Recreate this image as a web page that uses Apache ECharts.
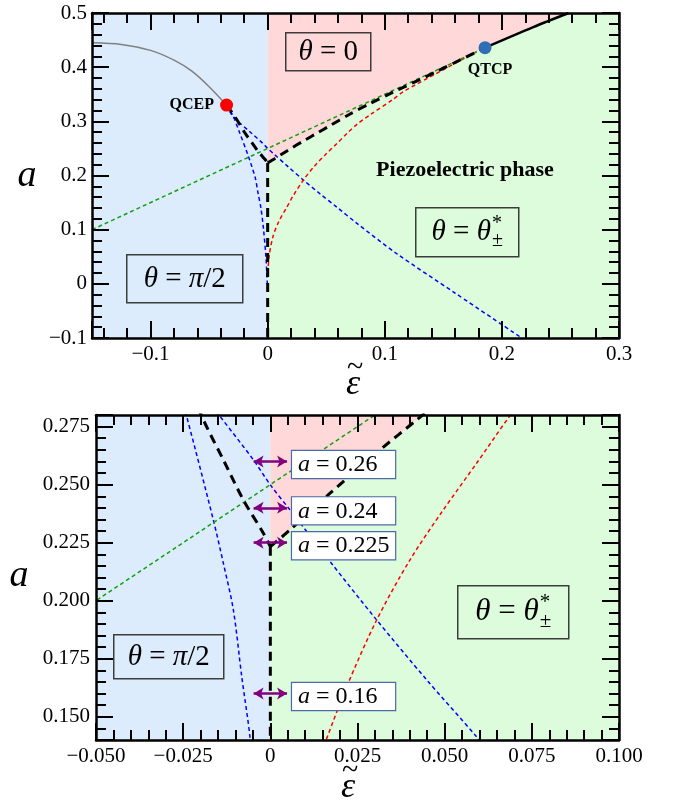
<!DOCTYPE html>
<html><head><meta charset="utf-8">
<script src="https://cdn.jsdelivr.net/npm/echarts@6/dist/echarts.min.js"></script>
<style>html,body{margin:0;padding:0;background:#fff}#c{width:678px;height:804px}</style>
</head><body><div id="c"></div>
<script>
// ---------- data ----------
const topXRange = [-0.15, 0.3];
const topYRange = [-0.1, 0.5];
const botXRange = [-0.05, 0.1];
const botYRange = [0.14, 0.28];
const topXTicks = [0.1, 0.02];   // major, minor
const topYTicks = [0.1, 0.02];
const botXTicks = [0.025, 0.005];
const botYTicks = [0.025, 0.005];

const qcep = [-0.0351, 0.330];
const qtcp = [0.1856, 0.436];
const grayCurve = [[-0.15,0.445],[-0.125,0.442],[-0.1,0.431],[-0.08,0.413],[-0.065,0.393],[-0.05,0.364],[-0.0351,0.330]];
const blueCurve1 = [[-0.0351,0.330],[-0.0300,0.312],[-0.0240,0.2794],[-0.01635,0.2348],[-0.01348,0.2162],[-0.0106,0.196],[-0.0082,0.1673],[-0.0058,0.1407],[-0.0035,0.100],[-0.0015,0.050],[-0.0003,0.0]];
const blueCurve2 = [[-0.0351,0.330],[-0.0294,0.3085],[-0.01443,0.2794],[-0.00487,0.2607],[0,0.2499],[0.00565,0.2391],[0.01712,0.2169],[0.0305,0.1917],[0.04485,0.1659],[0.0587,0.1422],[0.076,0.112],[0.110,0.056],[0.160,-0.017],[0.217,-0.1]];
const greenLine = [[-0.15,0.10],[0.1856,0.4356]];
const redCurve = [[0.0002,0.02],[0.0012,0.05],[0.0045,0.087],[0.0095,0.115],[0.01617,0.1407],[0.0219,0.163],[0.0305,0.1917],[0.04006,0.2176],[0.0496,0.2391],[0.0592,0.2593],[0.06825,0.2787],[0.076,0.294],[0.0874,0.312],[0.1073,0.341],[0.1158,0.3546],[0.1443,0.3886],[0.1728,0.422],[0.1856,0.436]];
const blackLeft = [[-0.0351,0.330],[-0.0279,0.3085],[-0.0192,0.2779],[-0.01348,0.2607],[-0.00774,0.2434],[-0.0020,0.2291],[0,0.2233]];
const blackRight = [[0,0.2233],[0.00565,0.2305],[0.01712,0.2463],[0.03146,0.265],[0.042,0.2779],[0.0532,0.292],[0.07,0.313],[0.0874,0.333],[0.1073,0.354],[0.1443,0.392],[0.1856,0.436]];
const blackSolid = [[0.1856,0.436],[0.2268,0.474],[0.257,0.5]];
const blackVertical = [[0,0.2233],[0,-0.1]];
const arrowLevels = [0.26, 0.24, 0.225, 0.16];
const arrowHalfSpan = 0.0048;

// ---------- styles ----------
const SERIF = 'Liberation Serif';
const C_BLUEBG = '#dcecfc', C_PINK = '#ffd9d9', C_GREENBG = '#dcfcdc';

function fmt(step, dec) {
  return function (v) {
    const k = v / step;
    if (Math.abs(k - Math.round(k)) > 1e-6) return '';
    if (Math.abs(v) < 1e-9) return '0';
    return v.toFixed(dec).replace('-', '\u2212');
  };
}

function makeAxes(dim, grid, range, ticks, dec, margin) {
  const posA = dim === 'x' ? 'bottom' : 'left';
  const posB = dim === 'x' ? 'top' : 'right';
  const mk = (pos, step, len, withLabel, withLine) => ({
    type: 'value', gridIndex: grid, position: pos, min: range[0], max: range[1], z: 20,
    minInterval: step, maxInterval: step,
    splitNumber: Math.round((range[1] - range[0]) / step),
    splitLine: { show: false },
    axisLine: { show: withLine, onZero: false, lineStyle: { color: '#000', width: 2.5 } },
    axisTick: { show: true, inside: true, length: len, lineStyle: { color: '#000', width: 2 } },
    axisLabel: { show: withLabel, margin: margin, color: '#000', fontFamily: SERIF, fontSize: 21,
      formatter: fmt(ticks[0], dec) }
  });
  return [mk(posA, ticks[0], 17, true, true), mk(posA, ticks[1], 10, false, false),
          mk(posB, ticks[0], 17, false, true), mk(posB, ticks[1], 10, false, false)];
}

const xAxes = [].concat(makeAxes('x', 0, topXRange, topXTicks, 1, 6), makeAxes('x', 1, botXRange, botXTicks, 3, 6));
const yAxes = [].concat(makeAxes('y', 0, topYRange, topYTicks, 1, 5), makeAxes('y', 1, botYRange, botYTicks, 3, 6));

function lineS(data, ax, color, width, dash, z, smooth) {
  return { type: 'line', data: data, xAxisIndex: ax, yAxisIndex: ax, showSymbol: false, symbol: 'none',
    silent: true, animation: false, z: z || 3, clip: true, smooth: smooth || false,
    lineStyle: { color: color, width: width, type: dash || 'solid', cap: 'butt' } };
}
function rectS(xr, yr, ax, color) {
  return { type: 'line', data: [[xr[0], yr[1]], [xr[1], yr[1]]], xAxisIndex: ax, yAxisIndex: ax,
    symbol: 'none', silent: true, animation: false, z: -10,
    lineStyle: { width: 0, opacity: 0 }, areaStyle: { color: color, opacity: 1, origin: 'start' } };
}
function pinkS(ax) {
  return { type: 'line', data: blackRight.concat(blackSolid.slice(1)), xAxisIndex: ax, yAxisIndex: ax,
    symbol: 'none', silent: true, animation: false, z: -9, smooth: 0.3,
    lineStyle: { width: 0, opacity: 0 }, areaStyle: { color: C_PINK, opacity: 1, origin: 'end' } };
}
const DASH_BLACK = [9, 6], DASH_COL = [4, 3];
function curves(ax) {
  return [
    lineS(blueCurve1, ax, '#0000ff', 1.5, DASH_COL, 3, 0.3),
    lineS(blueCurve2, ax, '#0000ff', 1.5, DASH_COL, 3, 0.3),
    lineS(redCurve, ax, '#ff0000', 1.5, DASH_COL, 3, 0.3),
    lineS(greenLine, ax, '#11a011', 1.5, DASH_COL, 3),
    lineS(blackLeft, ax, '#000', 3, DASH_BLACK, 4, 0.3),
    lineS(blackRight, ax, '#000', 3, DASH_BLACK, 4, 0.3),
    lineS(blackVertical, ax, '#000', 3, DASH_BLACK, 4)
  ];
}

const series = [];
// top panel
series.push(rectS([topXRange[0], 0], topYRange, 0, C_BLUEBG));
series.push(rectS([0, topXRange[1]], topYRange, 0, C_GREENBG));
series.push(pinkS(0));
series.push(lineS(grayCurve, 0, '#808080', 1.5, 'solid', 3, 0.3));
curves(0).forEach(s => series.push(s));
series.push(lineS(blackSolid, 0, '#000', 2.5, 'solid', 4, 0.3));
const ptLabel = { color: '#000', fontFamily: SERIF, fontWeight: 'bold', fontSize: 16 };
series.push({ type: 'scatter', xAxisIndex: 0, yAxisIndex: 0, z: 6, silent: true, animation: false,
  symbolSize: 13, itemStyle: { opacity: 1 },
  data: [
    { value: qcep, itemStyle: { color: '#ff0000', opacity: 1 },
      label: Object.assign({ show: true, position: 'left', distance: 6, formatter: 'QCEP' }, ptLabel) },
    { value: qtcp, itemStyle: { color: '#2f6fb6', opacity: 1 },
      label: Object.assign({ show: true, position: 'bottom', distance: 8, offset: [5, 0], formatter: 'QTCP' }, ptLabel) }
  ],
  label: ptLabel });

// bottom panel
series.push(rectS([botXRange[0], 0], botYRange, 4, C_BLUEBG));
series.push(rectS([0, botXRange[1]], botYRange, 4, C_GREENBG));
series.push(pinkS(4));
curves(4).forEach(s => series.push(s));
series.push({ type: 'scatter', xAxisIndex: 4, yAxisIndex: 4, z: 7, silent: true, animation: false,
  symbolSize: 0, itemStyle: { opacity: 1 },
  data: arrowLevels.map(a => [arrowHalfSpan, a]),
  label: { show: true, position: 'right', distance: 5, offset: [0, 3],
    formatter: p => '{i|a} = ' + p.value[1],
    color: '#000', fontFamily: SERIF, fontSize: 24, lineHeight: 22,
    backgroundColor: '#fff', borderColor: '#4a6aa8', borderWidth: 1.2,
    padding: [3, 4, 2, 6], width: 93,
    rich: { i: { fontStyle: 'italic', fontFamily: SERIF, fontSize: 24, color: '#000' } } },
  markLine: { silent: true, animation: false, symbol: ['arrow', 'arrow'], symbolSize: [9, 10],
    lineStyle: { color: '#800080', width: 2.5, type: 'solid', opacity: 1 }, label: { show: false },
    data: arrowLevels.map(a => [{ coord: [-arrowHalfSpan, a] }, { coord: [arrowHalfSpan, a] }]) } });

// ---------- annotations ----------
const ctx = document.createElement('canvas').getContext('2d');
function tw(font, s) { ctx.font = font; return ctx.measureText(s).width; }
const RICH = (fs) => ({ i: { fontStyle: 'italic', fontFamily: SERIF, fontSize: fs, fill: '#000' },
                        n: { fontFamily: SERIF, fontSize: fs, fill: '#000' } });
function box(left, top, w, h, text, fs) {
  return { type: 'group', left: left, top: top, z: 100, children: [
    { type: 'rect', shape: { x: 0, y: 0, width: w, height: h }, style: { fill: 'transparent', stroke: '#3c3c3c', lineWidth: 1.5 }, z: 100 },
    { type: 'text', x: w / 2, y: h / 2 + 1, z: 101, style: { text: text, rich: RICH(fs), fontFamily: SERIF, fontSize: fs, fill: '#000', align: 'center', verticalAlign: 'middle' } }
  ] };
}
function starBox(left, top, w, h, fs) {
  const baseW = tw('italic ' + fs + 'px "' + SERIF + '"', '\u03b8') * 2 + tw(fs + 'px "' + SERIF + '"', ' = ');
  const sfs = Math.round(fs * 0.68);
  const supW = tw(sfs + 'px "' + SERIF + '"', '\u00b1');
  const x0 = (w - baseW - supW - 1) / 2;
  return { type: 'group', left: left, top: top, z: 100, children: [
    { type: 'rect', shape: { x: 0, y: 0, width: w, height: h }, style: { fill: 'transparent', stroke: '#3c3c3c', lineWidth: 1.5 }, z: 100 },
    { type: 'text', x: x0, y: h / 2, z: 101, style: { text: '{i|\u03b8}{n| = }{i|\u03b8}', rich: RICH(fs), fontFamily: SERIF, fontSize: fs, align: 'left', verticalAlign: 'middle' } },
    { type: 'text', x: x0 + baseW + 1, y: h / 2 - fs * 0.3, z: 101, style: { text: '*', fontFamily: SERIF, fontSize: sfs, fill: '#000', align: 'left', verticalAlign: 'middle' } },
    { type: 'text', x: x0 + baseW + 1, y: h / 2 + fs * 0.3, z: 101, style: { text: '\u00b1', fontFamily: SERIF, fontSize: sfs, fill: '#000', align: 'left', verticalAlign: 'middle' } }
  ] };
}
function label(x, y, text, font) {
  return { type: 'text', x: x, y: y, z: 100,
    style: Object.assign({ text: text, fill: '#000', align: 'center', verticalAlign: 'middle', fontFamily: SERIF }, font) };
}
function epsTilde(cx, cy) {
  return { type: 'group', x: cx, y: cy, z: 100, children: [
    label(0, 0, '\u03b5', { fontSize: 36, fontStyle: 'italic' }),
    label(2, -17, '~', { fontSize: 30 })
  ] };
}

const graphic = [
  box(285, 32, 85, 38, '{i|\u03b8}{n| = 0}', 29),
  box(126, 254, 116, 48, '{i|\u03b8}{n| = }{i|\u03c0}{n|/2}', 29),
  starBox(415, 207, 103, 49, 29),
  label(465, 170, 'Piezoelectric phase', { fontSize: 22, fontWeight: 'bold' }),
  label(27, 176, 'a', { fontSize: 38, fontStyle: 'italic' }),
  epsTilde(353, 385),
  box(113, 634, 110, 44, '{i|\u03b8}{n| = }{i|\u03c0}{n|/2}', 29),
  starBox(457, 585, 111, 53, 31),
  label(19, 576, 'a', { fontSize: 38, fontStyle: 'italic' }),
  epsTilde(348, 788)
];

const chart = echarts.init(document.getElementById('c'), null, { renderer: 'canvas', width: 678, height: 804 });
chart.setOption({
  animation: false,
  backgroundColor: '#fff',
  grid: [
    { left: 92, top: 13, width: 527, height: 325 },
    { left: 96, top: 415, width: 523, height: 325 }
  ],
  xAxis: xAxes,
  yAxis: yAxes,
  series: series,
  graphic: graphic
});
</script>
</body></html>
